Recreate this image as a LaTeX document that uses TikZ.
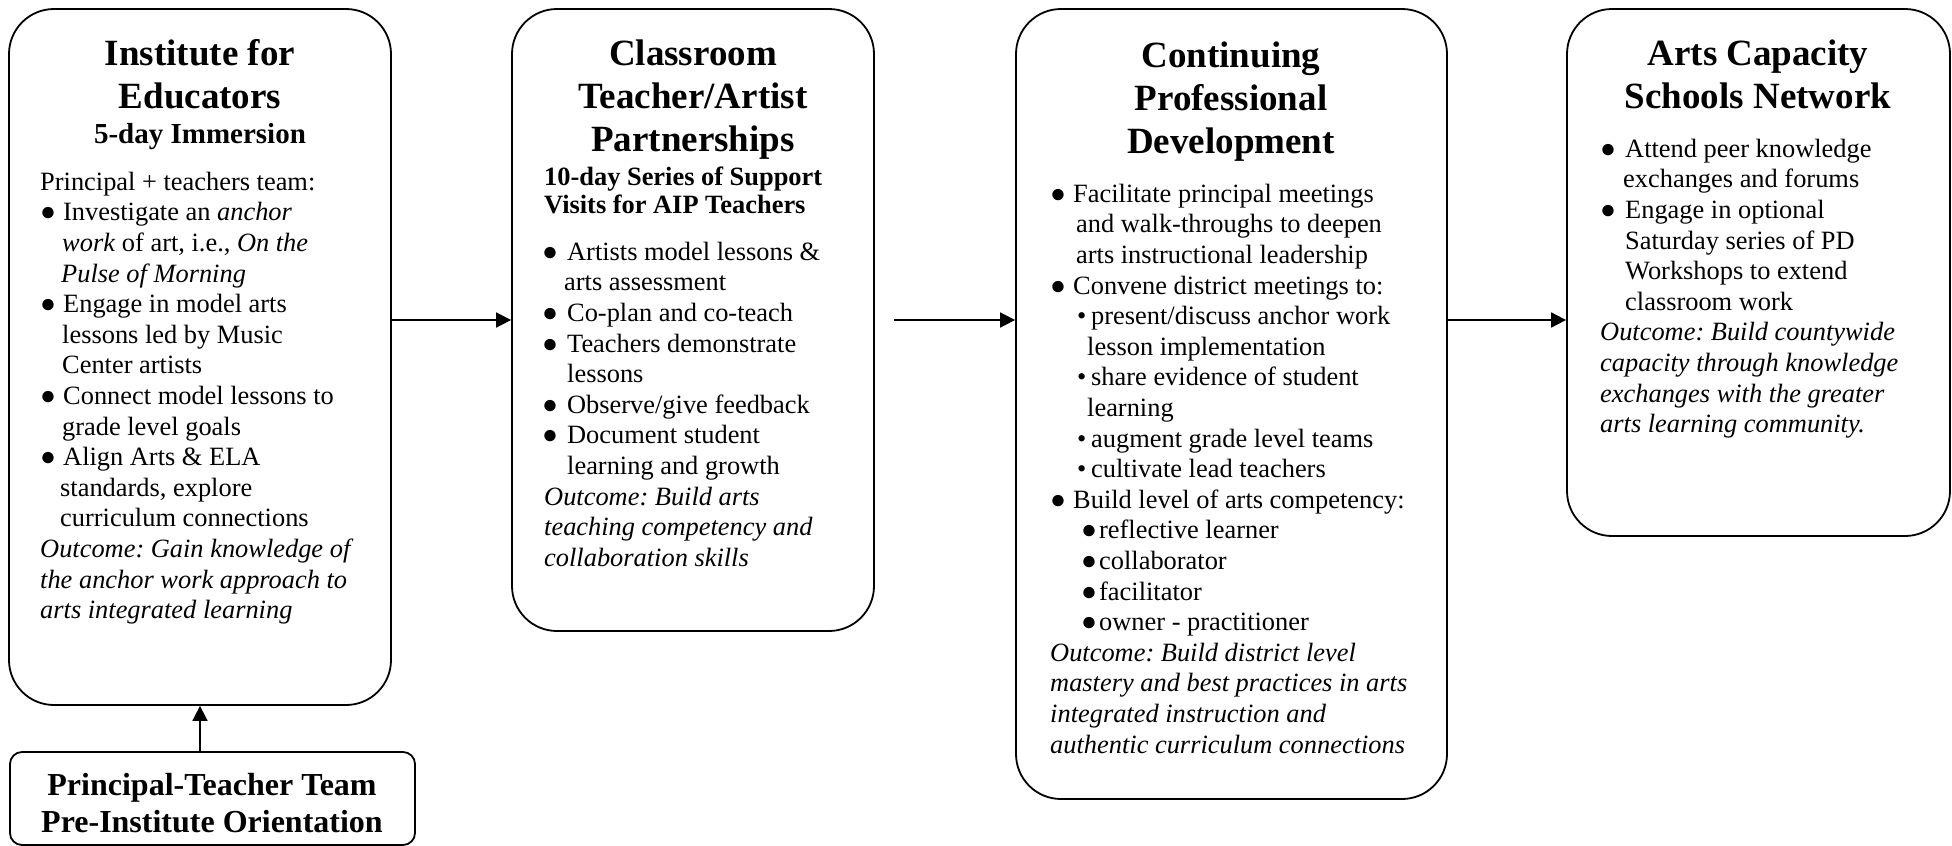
\documentclass[tikz,border=0pt]{standalone}
\usepackage{fontspec}
\setmainfont{Liberation Serif}
\usetikzlibrary{arrows.meta}
\frenchspacing
\newcommand{\bigb}{●}
\newcommand{\mbul}[1][22pt]{\makebox[#1][l]{\bigb}}
\newcommand{\subbul}{\makebox[14pt][l]{\textbullet}}
\newcommand{\subbig}{\makebox[18pt][l]{\bigb}}
\tikzset{
  box/.style={draw, line width=1.8pt, rounded corners=45pt, inner sep=0pt},
  titlef/.style={font=\fontsize{37}{43}\bfseries\selectfont, align=center, inner sep=0pt, anchor=north},
  bodyf/.style={font=\fontsize{26.4}{30.6}\selectfont\frenchspacing, align=left, inner sep=0pt, anchor=north west},
  arr/.style={line width=1.8pt, -{Triangle[length=15pt,width=15pt]}}
}
\begin{document}
\begin{tikzpicture}[x=1pt,y=-1pt]
\useasboundingbox (0,0) rectangle (1952,846);
% boxes
\node[box, minimum width=382pt, minimum height=696pt] (box1) at (200,357) {};
\node[box, minimum width=362pt, minimum height=622pt] (box2) at (693,320) {};
\node[box, minimum width=431pt, minimum height=790pt] (box3) at (1231.5,404) {};
\node[box, minimum width=383pt, minimum height=527pt] (box4) at (1758.5,272.5) {};
\node[box, rounded corners=12pt, minimum width=405pt, minimum height=93pt] (box5) at (212.5,798.5) {};
% box 1 text
\node[titlef] (t1) at (200,34.9) {\strut Institute for\\Educators};
\node[font=\fontsize{29}{33}\bfseries\selectfont, anchor=base, inner sep=0pt] (s1) at (200,143) {5-day Immersion};
\node[bodyf] (b1) at (40,168.6) {\strut Principal + teachers team:\\
\mbul[23pt]Investigate an \textit{anchor}\\
\hspace*{22pt}\textit{work} of art, i.e., \textit{On the}\\
\hspace*{21pt}\textit{Pulse of Morning}\\
\mbul[23pt]Engage in model arts\\
\hspace*{22pt}lessons led by Music\\
\hspace*{22pt}Center artists\\
\mbul[23pt]Connect model lessons to\\
\hspace*{22pt}grade level goals\\
\mbul[23pt]Align Arts \& ELA\\
\hspace*{20pt}standards, explore\\
\hspace*{20pt}curriculum connections\\
\textit{Outcome: Gain knowledge of}\\
\textit{the anchor work approach to}\\
\textit{arts integrated learning}};
% box 2 text
\node[titlef] (t2) at (693,34.9) {\strut Classroom\\Teacher/Artist\\Partnerships};
\node[font=\fontsize{26.4}{28}\bfseries\selectfont, align=left, anchor=north west, inner sep=0pt] (s2) at (544,165.4) {\strut 10-day Series of Support\\Visits for AIP Teachers};
\node[bodyf] (b2) at (542,238.6) {\strut\mbul[25pt]Artists model lessons \&\\
\hspace*{22pt}arts assessment\\
\mbul[25pt]Co-plan and co-teach\\
\mbul[25pt]Teachers demonstrate\\
\hspace*{25pt}lessons\\
\mbul[25pt]Observe/give feedback\\
\mbul[25pt]Document student\\
\hspace*{25pt}learning and growth\\
\hspace*{2pt}\textit{Outcome: Build arts}\\
\hspace*{2pt}\textit{teaching competency and}\\
\hspace*{2pt}\textit{collaboration skills}};
% box 3 text
\node[titlef] (t3) at (1231,36.9) {\strut Continuing\\Professional\\Development};
\node[bodyf] (b3) at (1050,180.6) {\strut\mbul[23pt]Facilitate principal meetings\\
\hspace*{26pt}and walk-throughs to deepen\\
\hspace*{26pt}arts instructional leadership\\
\mbul[23pt]Convene district meetings to:\\
\hspace*{27pt}\subbul present/discuss anchor work\\
\hspace*{37pt}lesson implementation\\
\hspace*{27pt}\subbul share evidence of student\\
\hspace*{37pt}learning\\
\hspace*{27pt}\subbul augment grade level teams\\
\hspace*{27pt}\subbul cultivate lead teachers\\
\mbul[23pt]Build level of arts competency:\\
\hspace*{31pt}\subbig reflective learner\\
\hspace*{31pt}\subbig collaborator\\
\hspace*{31pt}\subbig facilitator\\
\hspace*{31pt}\subbig owner - practitioner\\
\textit{Outcome: Build district level}\\
\textit{mastery and best practices in arts}\\
\textit{integrated instruction and}\\
\textit{authentic curriculum connections}};
% box 4 text
\node[titlef] (t4) at (1758,34.9) {\strut Arts Capacity\\Schools Network};
\node[bodyf] (b4) at (1600,135.6) {\strut\mbul[25pt]Attend peer knowledge\\
\hspace*{23pt}exchanges and forums\\
\mbul[25pt]Engage in optional\\
\hspace*{25pt}Saturday series of PD\\
\hspace*{25pt}Workshops to extend\\
\hspace*{25pt}classroom work\\
\textit{Outcome: Build countywide}\\
\textit{capacity through knowledge}\\
\textit{exchanges with the greater}\\
\textit{arts learning community.}};
% box 5 text
\node[titlef, font=\fontsize{32}{37}\bfseries\selectfont] (t5) at (212,769.1) {\strut Principal-Teacher Team\\Pre-Institute Orientation};
% connectors
\coordinate (row) at (0,320);
\coordinate (a2) at (894,320);
\draw[arr] (box1.east |- row) -- (box2.west |- row);
\draw[arr] (a2) -- (box3.west |- a2);
\draw[arr] (box3.east |- row) -- (box4.west |- row);
\draw[arr] (box5.north -| box1.south) -- (box1.south);
\end{tikzpicture}
\end{document}
